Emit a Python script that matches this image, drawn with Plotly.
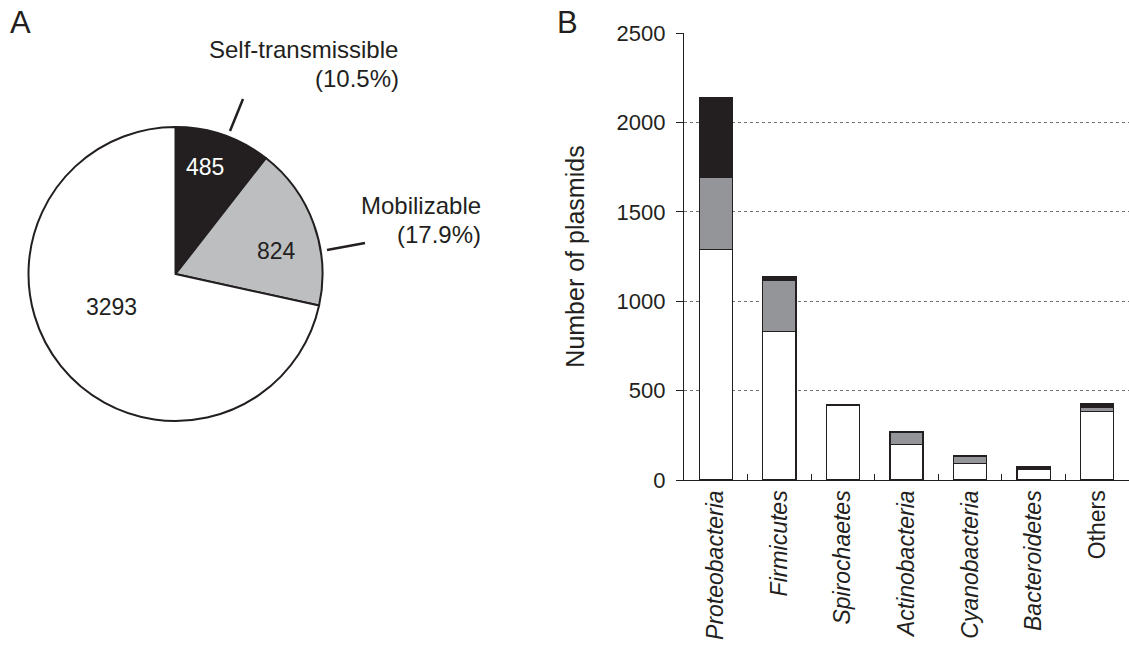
import plotly.graph_objects as go

# Pie data
pie_labels = ["Self-transmissible", "Mobilizable", "Other"]
pie_values = [485, 824, 3293]
pie_colors = ["#231f20", "#bcbec0", "#ffffff"]

# Bar data
phyla = ["Proteobacteria", "Firmicutes", "Spirochaetes", "Actinobacteria",
         "Cyanobacteria", "Bacteroidetes", "Others"]
phyla_ticks = ["<i>Proteobacteria</i>", "<i>Firmicutes</i>", "<i>Spirochaetes</i>",
               "<i>Actinobacteria</i>", "<i>Cyanobacteria</i>", "<i>Bacteroidetes</i>", "Others"]
other_vals = [1290, 830, 420, 200, 93, 58, 385]
mob_vals = [400, 285, 0, 66, 40, 2, 20]
self_vals = [450, 20, 0, 5, 3, 12, 20]
y_ticks = [0, 500, 1000, 1500, 2000, 2500]

W, H = 1129, 651
FONT = "Liberation Sans, Arial, sans-serif"
INK = "#231f20"

def px(x):
    return x / W

def py(y):
    return 1 - y / H

fig = go.Figure()

fig.add_trace(go.Pie(
    labels=pie_labels, values=pie_values, sort=False, direction="clockwise",
    rotation=0, textinfo="none", hoverinfo="label+value",
    marker=dict(colors=pie_colors, line=dict(color=INK, width=2)),
    domain=dict(x=[px(28.5), px(322.5)], y=[py(421), py(127)]),
    showlegend=False,
))

line_style = dict(color=INK, width=1.3)
for name, vals, col in [("Other", other_vals, "#ffffff"),
                        ("Mobilizable", mob_vals, "#939598"),
                        ("Self-transmissible", self_vals, INK)]:
    fig.add_trace(go.Bar(
        x=phyla, y=vals, name=name, marker=dict(color=col, line=line_style),
        width=0.52, showlegend=False, xaxis="x", yaxis="y",
    ))

fig.update_layout(
    width=W, height=H, margin=dict(l=0, r=0, t=0, b=0, autoexpand=False),
    paper_bgcolor="white", plot_bgcolor="white",
    barmode="stack", font=dict(family=FONT, color=INK, size=17),
    xaxis=dict(domain=[px(684), 1.0], range=[-0.5, 6.5], automargin=False,
               tickmode="array", tickvals=phyla, ticktext=phyla_ticks,
               tickangle=-90, tickson="boundaries", ticks="inside", ticklen=6,
               tickcolor=INK, showline=True, linecolor=INK, linewidth=1.3,
               showgrid=False, tickfont=dict(size=23, family=FONT, color=INK)),
    yaxis=dict(domain=[py(480), py(33)], range=[0, 2500], automargin=False,
               tickvals=y_ticks, ticks="outside", ticklen=7, tickcolor=INK,
               ticklabelstandoff=6,
               showline=True, linecolor=INK, linewidth=1.3,
               showgrid=True, gridcolor="#707070", griddash="dot", gridwidth=1,
               zeroline=False, tickfont=dict(size=22, family=FONT, color=INK),
               title=dict(text="Number of plasmids", font=dict(size=25, family=FONT, color=INK),
                          standoff=24)),
)

ann = [
    dict(text="A", x=px(20), y=py(22), size=31, xanchor="center", color=INK),
    dict(text="B", x=px(567), y=py(22), size=31, xanchor="center", color=INK),
    dict(text="Self-transmissible", x=px(400), y=py(50), size=24, xanchor="right", color=INK),
    dict(text="(10.5%)", x=px(401), y=py(78), size=24, xanchor="right", color=INK),
    dict(text="Mobilizable", x=px(483), y=py(205), size=24, xanchor="right", color=INK),
    dict(text="(17.9%)", x=px(483), y=py(234), size=24, xanchor="right", color=INK),
    dict(text="485", x=px(205), y=py(167), size=23, xanchor="center", color="#ffffff"),
    dict(text="824", x=px(276), y=py(251), size=23, xanchor="center", color=INK),
    dict(text="3293", x=px(111), y=py(307), size=23, xanchor="center", color=INK),
]
for a in ann:
    fig.add_annotation(text=a["text"], x=a["x"], y=a["y"], xref="paper", yref="paper",
                       xanchor=a["xanchor"], yanchor="middle", showarrow=False,
                       font=dict(size=a["size"], family=FONT, color=a["color"]))

# leader lines
fig.add_shape(type="line", xref="paper", yref="paper",
              x0=px(230), y0=py(131), x1=px(243), y1=py(99), line=dict(color=INK, width=2.5))
fig.add_shape(type="line", xref="paper", yref="paper",
              x0=px(327), y0=py(250), x1=px(365), y1=py(243), line=dict(color=INK, width=2.5))

fig.write_html("out.html")
